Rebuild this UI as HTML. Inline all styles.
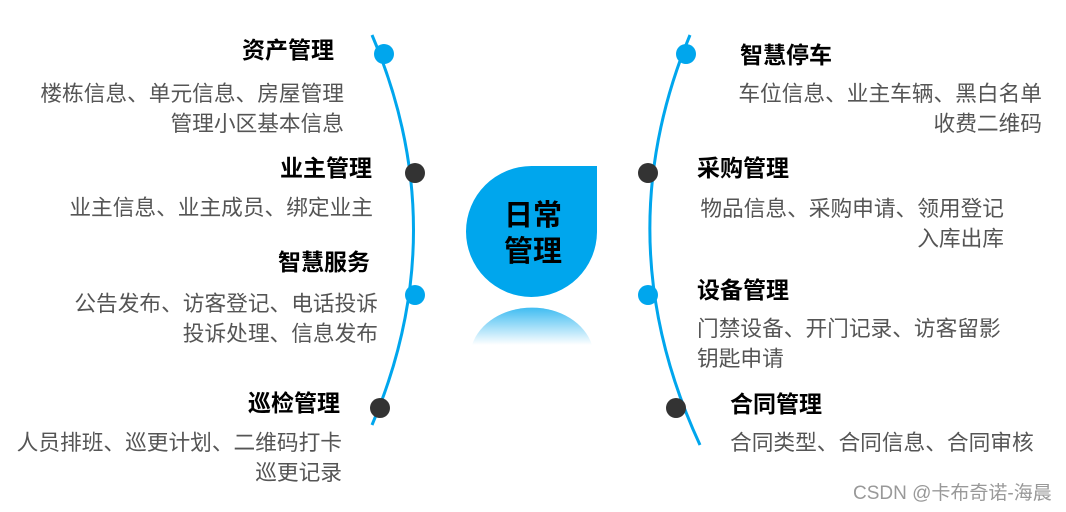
<!DOCTYPE html>
<html><head><meta charset="utf-8"><style>
body{margin:0;width:1066px;height:512px;background:#fff;overflow:hidden;position:relative;font-family:"Liberation Sans","Noto Sans CJK SC",sans-serif}
.t{position:absolute;font-weight:bold;font-size:23px;color:#000;line-height:30px;white-space:nowrap}
.b{position:absolute;font-size:21.7px;color:#555;line-height:30px;white-space:nowrap}
.r{text-align:right}
</style></head><body>
<svg width="1066" height="512" style="position:absolute;left:0;top:0">
<defs><linearGradient id="g" x1="0" y1="0" x2="0" y2="1"><stop offset="0" stop-color="#00a6ed" stop-opacity="0.75"/><stop offset="1" stop-color="#00a6ed" stop-opacity="0"/></linearGradient></defs>
<path d="M372,35 Q455,230 372,425" fill="none" stroke="#00a6ed" stroke-width="3"/>
<path d="M690,35 Q605,240 700,445" fill="none" stroke="#00a6ed" stroke-width="3"/>
<circle cx="384" cy="54" r="10" fill="#00a6ed"/>
<circle cx="415" cy="173" r="10" fill="#333"/>
<circle cx="415" cy="295" r="10" fill="#00a6ed"/>
<circle cx="380" cy="408" r="10" fill="#333"/>
<circle cx="686" cy="54" r="10" fill="#00a6ed"/>
<circle cx="648" cy="173" r="10" fill="#333"/>
<circle cx="648" cy="295" r="10" fill="#00a6ed"/>
<circle cx="676" cy="408" r="10" fill="#333"/>
<path d="M597,166 L597,232 A65.5,65.5 0 1 1 531.5,166 Z" fill="#00a6ed"/>
<path d="M472,345 A62,50 0 0 1 592,345 Z" fill="url(#g)"/>
<text x="533" y="225" text-anchor="middle" font-size="29" font-weight="bold" font-family="Liberation Sans,Noto Sans CJK SC,sans-serif" fill="#000">日常</text>
<text x="533" y="261" text-anchor="middle" font-size="29" font-weight="bold" font-family="Liberation Sans,Noto Sans CJK SC,sans-serif" fill="#000">管理</text>
</svg>
<div class="t r" style="right:732px;top:35px">资产管理</div>
<div class="b r" style="right:722px;top:79px">楼栋信息、单元信息、房屋管理<br>管理小区基本信息</div>
<div class="t r" style="right:694px;top:153px">业主管理</div>
<div class="b r" style="right:693px;top:193px">业主信息、业主成员、绑定业主</div>
<div class="t r" style="right:696px;top:247px">智慧服务</div>
<div class="b r" style="right:688px;top:289px">公告发布、访客登记、电话投诉<br>投诉处理、信息发布</div>
<div class="t r" style="right:726px;top:388px">巡检管理</div>
<div class="b r" style="right:724px;top:428px">人员排班、巡更计划、二维码打卡<br>巡更记录</div>
<div class="t" style="left:740px;top:40px">智慧停车</div>
<div class="b r" style="right:24px;top:79px">车位信息、业主车辆、黑白名单<br>收费二维码</div>
<div class="t" style="left:697px;top:153px">采购管理</div>
<div class="b r" style="right:62px;top:194px">物品信息、采购申请、领用登记<br>入库出库</div>
<div class="t" style="left:697px;top:275px">设备管理</div>
<div class="b" style="left:697px;top:314px">门禁设备、开门记录、访客留影<br>钥匙申请</div>
<div class="t" style="left:730px;top:389px">合同管理</div>
<div class="b" style="left:730px;top:428px">合同类型、合同信息、合同审核</div>
<div style="position:absolute;left:853px;top:482px;font-size:19px;line-height:24px;color:#999;white-space:nowrap">CSDN @卡布奇诺-海晨</div>
</body></html>
